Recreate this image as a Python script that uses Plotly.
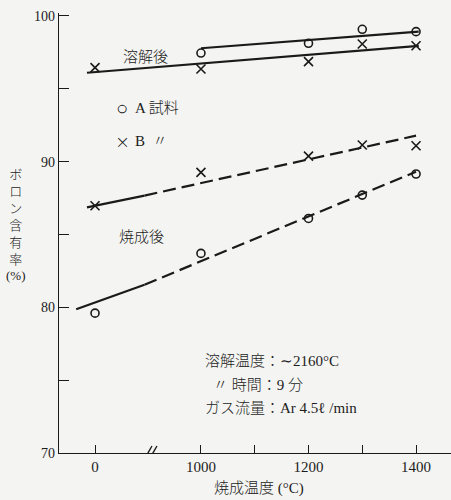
import plotly.graph_objects as go

# ---------------- data ----------------
temps = [0, 1000, 1200, 1300, 1400]            # 焼成温度 (°C)
A_melt = [None, 97.45, 98.12, 99.08, 98.92]     # A 試料 溶解後
B_melt = [96.45, 96.36, 96.86, 98.07, 97.95]    # B 試料 溶解後
A_fired = [79.6, 83.7, 86.1, 87.7, 89.15]       # A 試料 焼成後
B_fired = [86.97, 89.26, 90.38, 91.14, 91.09]   # B 試料 焼成後

# fitted lines, x in temperature, "brk" = just before axis break
fitA_melt_x = [1000, 1405]
fitA_melt_y = [97.78, 98.92]
fitB_melt_x = [-15, 1405]
fitB_melt_y = [96.1, 97.95]
fitB_fired_x = [-15, "brk", 1400]
fitB_fired_y = [86.86, 87.67, 91.78]
fitA_fired_x = [-35, "brk", 1400]
fitA_fired_y = [79.86, 81.55, 89.31]

xtick_vals = [0, 1000, 1100, 1200, 1300, 1400]
xtick_text = ["0", "1000", "", "1200", "", "1400"]
ytick_vals = [70, 80, 90, 100]

# ---------------- broken axis mapping ----------------
ZERO_POS = 803      # display position of 0 °C
BREAK_POS = 907     # display position of the axis break


def pos(t):
    if t == "brk":
        return BREAK_POS - 12
    return t if t >= 1000 else ZERO_POS + t


def posl(ts):
    return [pos(t) for t in ts]


INK = "#1a1a1a"
TXT = "#1c1c1c"
BG = "#f4f4f2"
SERIF = "Liberation Serif, Noto Sans CJK JP"
DASH = "13px,6px"

fig = go.Figure()

# fitted lines
fig.add_trace(go.Scatter(x=posl(fitA_melt_x), y=fitA_melt_y, mode="lines",
                         line=dict(color=INK, width=2.2), hoverinfo="skip"))
fig.add_trace(go.Scatter(x=posl(fitB_melt_x), y=fitB_melt_y, mode="lines",
                         line=dict(color=INK, width=2.2), hoverinfo="skip"))
for fx, fy in [(fitB_fired_x, fitB_fired_y), (fitA_fired_x, fitA_fired_y)]:
    fig.add_trace(go.Scatter(x=posl(fx[:2]), y=fy[:2], mode="lines",
                             line=dict(color=INK, width=2.2), hoverinfo="skip"))
    fig.add_trace(go.Scatter(x=posl(fx[1:]), y=fy[1:], mode="lines",
                             line=dict(color=INK, width=2.2, dash=DASH), hoverinfo="skip"))

# markers
circ = dict(symbol="circle-open", size=8, color=INK, line=dict(width=1.6, color=INK))
cross = dict(symbol="x-thin-open", size=9, color=INK, line=dict(width=1.6, color=INK))
fig.add_trace(go.Scatter(x=posl(temps), y=A_melt, mode="markers", marker=circ))
fig.add_trace(go.Scatter(x=posl(temps), y=A_fired, mode="markers", marker=circ))
fig.add_trace(go.Scatter(x=posl(temps), y=B_melt, mode="markers", marker=cross))
fig.add_trace(go.Scatter(x=posl(temps), y=B_fired, mode="markers", marker=cross))

fig.update_layout(
    width=451, height=500,
    margin=dict(l=59, r=0, t=13, b=47),
    paper_bgcolor=BG, plot_bgcolor=BG,
    showlegend=False,
    xaxis=dict(range=[736, 1465], tickvals=posl(xtick_vals), ticktext=xtick_text,
               ticks="inside", ticklen=8, tickwidth=1.2, tickcolor=INK,
               showline=True, linecolor=INK, linewidth=1.4, showgrid=False,
               zeroline=False, tickfont=dict(family=SERIF, size=15, color=TXT)),
    yaxis=dict(range=[70, 100.2], tickvals=ytick_vals,
               ticks="inside", ticklen=10, tickwidth=1.2, tickcolor=INK,
               minor=dict(tickvals=[75, 85, 95], ticks="inside", ticklen=10,
                          tickwidth=1.2, tickcolor=INK),
               showline=True, linecolor=INK, linewidth=1.4, showgrid=False,
               zeroline=False, tickfont=dict(family=SERIF, size=14, color=TXT)),
)

# axis break marks
for dx in (-3, 2):
    fig.add_shape(type="line", xref="x", yref="y", xsizemode="pixel", ysizemode="pixel",
                  xanchor=BREAK_POS, yanchor=70, x0=dx - 4, x1=dx + 4, y0=-7, y1=7,
                  line=dict(color=INK, width=1.4))


def ann(text, x, y, xanchor="left", size=14, yanchor="middle", family=SERIF, weight=300):
    fig.add_annotation(text=text, x=x, y=y, xref="paper", yref="paper",
                       xanchor=xanchor, yanchor=yanchor, showarrow=False,
                       font=dict(family=family, size=size, color=TXT, weight=weight))


def px(xp):
    return (xp - 59) / 392


def py(yp):
    return (453 - yp) / 440


ann("溶解後", px(145), py(57), xanchor="center", size=15)
ann("○", px(122), py(108), xanchor="center", size=20, family="DejaVu Sans")
ann("A 試料", px(133), py(108), size=15)
ann("×", px(122), py(141), xanchor="center", size=18, family="DejaVu Sans")
ann("B  〃", px(133), py(141), size=15)
ann("焼成後", px(141), py(237), xanchor="center", size=15)
ann("溶解温度：∼2160°C", px(203), py(361), size=15)
ann("〃 時間：9 分", px(211), py(385), size=15)
ann("ガス流量：Ar 4.5ℓ /min", px(203), py(408), size=15)
ann("焼成温度 (°C)", px(259), py(488), xanchor="center", size=15)
ann("ボ<br>ロ<br>ン<br>含<br>有<br>率<br>(%)", px(16), py(225), xanchor="center", size=13)

fig.write_html("out.html", config={"displayModeBar": False},
               post_script="document.body.style.margin='0';")
